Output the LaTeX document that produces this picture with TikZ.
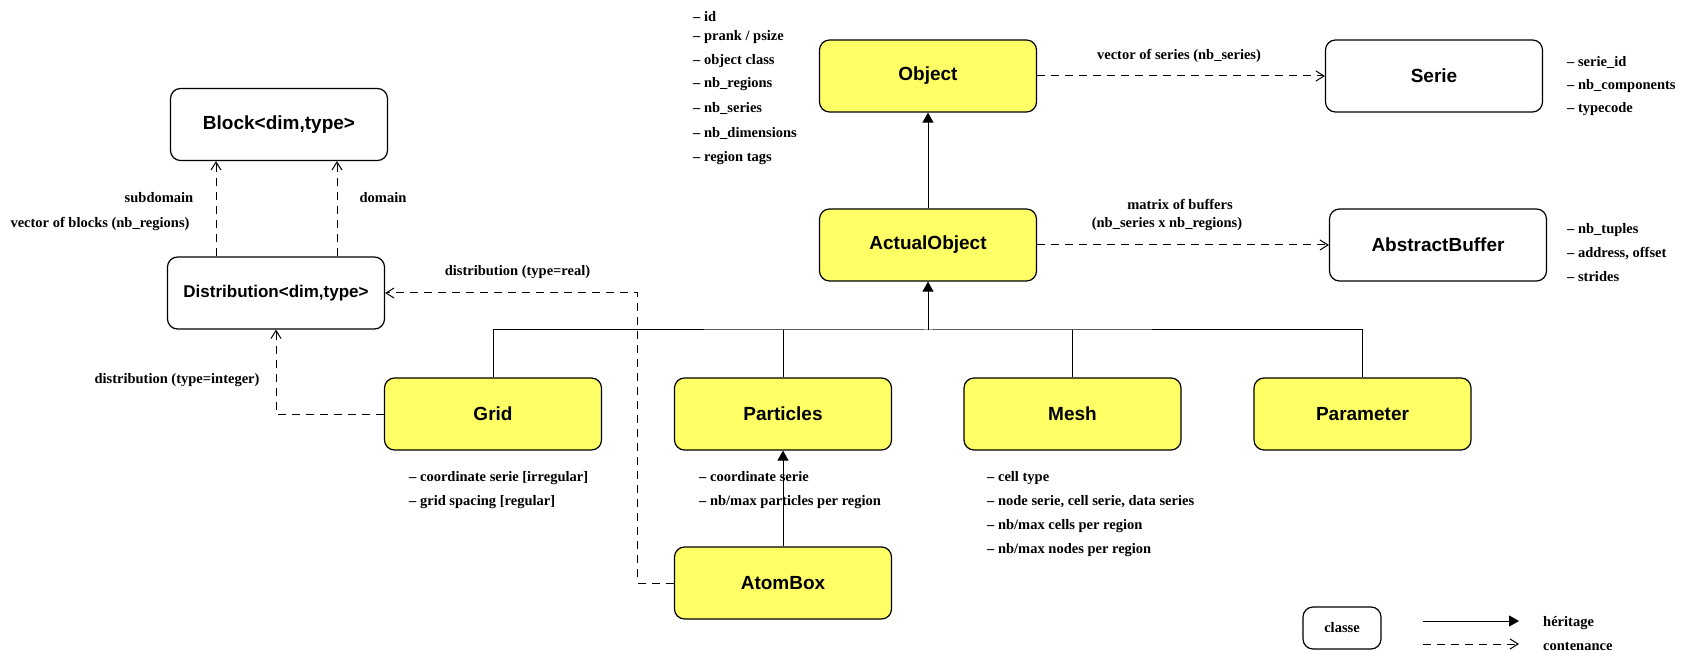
\documentclass[tikz,border=0pt]{standalone}
\usepackage{fontspec}
\setmainfont{Liberation Serif}
\newfontfamily\headfont{Liberation Sans}
\usetikzlibrary{arrows.meta,calc}
\definecolor{clsyellow}{RGB}{255,255,102}
\begin{document}
\begin{tikzpicture}[x=1pt,y=-1pt,
  cls/.style={draw, rounded corners=10pt, minimum width=217pt, minimum height=72pt,
    line width=1.2pt, inner sep=0pt, font=\headfont\bfseries\fontsize{19}{22}\selectfont},
  ycls/.style={cls, fill=clsyellow},
  lbl/.style={inner sep=0pt, text height=11pt, text depth=2pt,
    font=\bfseries\fontsize{14.5}{17}\selectfont},
  attr/.style={lbl, anchor=west},
  conn/.style={line width=1pt},
  inh/.style={conn, -{Triangle[length=10pt,width=11pt]}},
  cont/.style={conn, dash pattern=on 8pt off 6pt, -{Straight Barb[length=8pt,width=10pt]}},
  ]
\useasboundingbox (0,0) rectangle (1682,660);

% classes
\node[cls]  (block)     at (279,124.5) {Block<dim,type>};
\node[cls, font=\headfont\bfseries\fontsize{17}{20}\selectfont]
            (dist)      at (276,293)   {Distribution<dim,type>};
\node[ycls] (object)    at (928,76)    {Object};
\node[ycls] (actual)    at (928,245)   {ActualObject};
\node[cls]  (serie)     at (1434,76)   {Serie};
\node[cls]  (abuf)      at (1438,245)  {AbstractBuffer};
\node[ycls] (grid)      at (493,414)   {Grid};
\node[ycls] (particles) at (783,414)   {Particles};
\node[ycls] (mesh)      at (1072.5,414) {Mesh};
\node[ycls] (param)     at (1362.5,414) {Parameter};
\node[ycls] (atom)      at (783,583)   {AtomBox};

% inheritance
\draw[inh] (actual.north) -- (object.south);
\coordinate (bus) at (928,330);
\draw[conn] (grid.north) |- (bus) -| (param.north);
\draw[conn] (particles.north) -- (particles.north |- bus);
\draw[conn] (mesh.north) -- (mesh.north |- bus);
\draw[inh] (bus) -- (actual.south);
\draw[inh] (atom.north) -- (particles.south);

% containment
\draw[cont] (object.east) -- (serie.west);
\draw[cont] (actual.east) -- (abuf.west);
\draw[cont] ([xshift=-60pt]dist.north) -- ([xshift=-60pt]dist.north |- block.south);
\draw[cont] ([xshift=61pt]dist.north) -- ([xshift=61pt]dist.north |- block.south);
\draw[cont] (grid.west) -| (dist.south);
\draw[cont] (atom.west) -- ++(-36,0) |- (dist.east);

% connector labels
\node[lbl] (lsub)  at (159,198)   {subdomain};
\node[lbl] (lvec)  at (100,223)   {vector of blocks (nb\_regions)};
\node[lbl] (ldom)  at (383,198)   {domain};
\node[lbl] (lint)  at (177,379)   {distribution (type=integer)};
\node[lbl] (lreal) at (517.5,271) {distribution (type=real)};
\node[lbl] (lser)  at (1179,55)   {vector of series (nb\_series)};
\node[lbl] (lmat1) at (1180,205)  {matrix of buffers};
\node[lbl] (lmat2) at (1167,223)  {(nb\_series x nb\_regions)};

% Object attributes
\node[attr] (oa1) at (693,17)  {-- id};
\node[attr] (oa2) at (693,36)  {-- prank / psize};
\node[attr] (oa3) at (693,60)  {-- object class};
\node[attr] (oa4) at (693,83)  {-- nb\_regions};
\node[attr] (oa5) at (693,108) {-- nb\_series};
\node[attr] (oa6) at (693,133) {-- nb\_dimensions};
\node[attr] (oa7) at (693,157) {-- region tags};

% Serie attributes
\node[attr] (sa1) at (1567,62)  {-- serie\_id};
\node[attr] (sa2) at (1567,85)  {-- nb\_components};
\node[attr] (sa3) at (1567,108) {-- typecode};

% AbstractBuffer attributes
\node[attr] (ba1) at (1567,229) {-- nb\_tuples};
\node[attr] (ba2) at (1567,253) {-- address, offset};
\node[attr] (ba3) at (1567,277) {-- strides};

% Grid attributes
\node[attr] (ga1) at (409,477) {-- coordinate serie [irregular]};
\node[attr] (ga2) at (409,501) {-- grid spacing [regular]};

% Particles attributes
\node[attr] (pa1) at (699,477) {-- coordinate serie};
\node[attr] (pa2) at (699,501) {-- nb/max particles per region};

% Mesh attributes
\node[attr] (ma1) at (987,477) {-- cell type};
\node[attr] (ma2) at (987,501) {-- node serie, cell serie, data series};
\node[attr] (ma3) at (987,525) {-- nb/max cells per region};
\node[attr] (ma4) at (987,549) {-- nb/max nodes per region};

% legend
\node[cls, minimum width=78pt, minimum height=42pt, font=\bfseries\fontsize{14.5}{17}\selectfont] (legend) at (1342,628) {classe};
\coordinate (h1) at (1423,621);
\coordinate (h2) at (1519,621);
\draw[inh] (h1) -- (h2);
\node[attr] (lher) at (1543,622) {héritage};
\coordinate (c1) at (1423,644);
\coordinate (c2) at (1519,644);
\draw[cont] (c1) -- (c2);
\node[attr] (lcon) at (1543,646) {contenance};
\end{tikzpicture}
\end{document}
